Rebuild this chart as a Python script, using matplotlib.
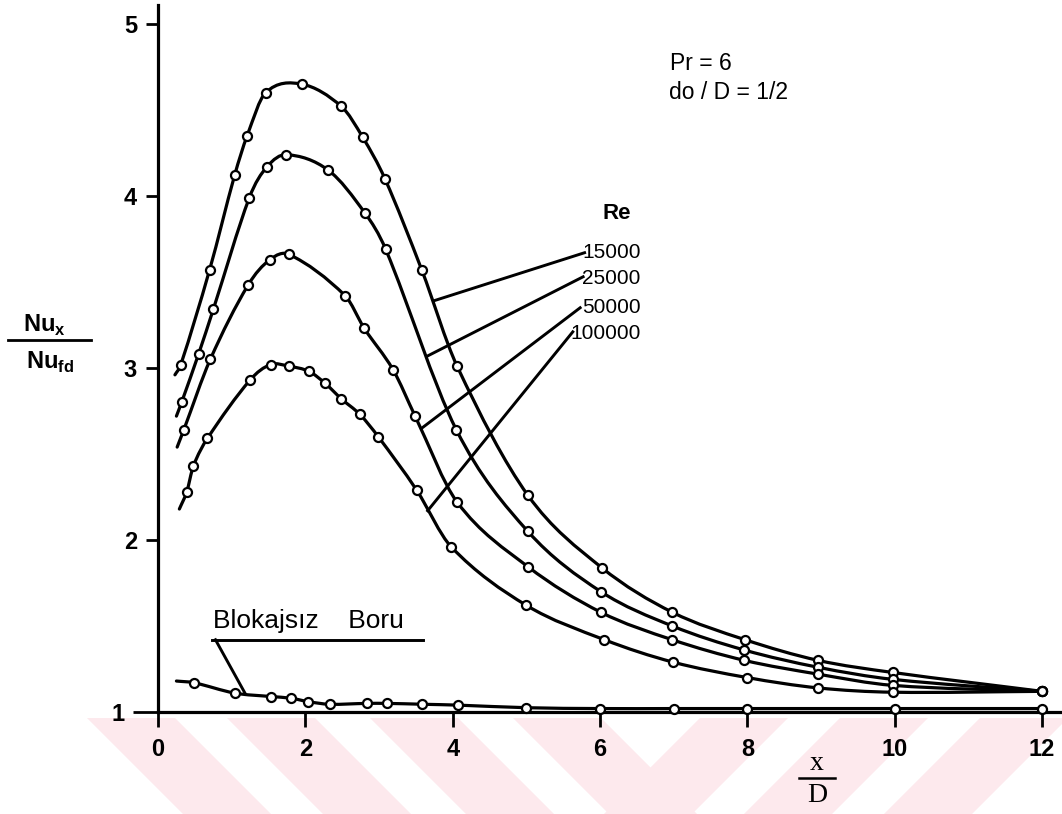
import numpy as np
import matplotlib
matplotlib.use("Agg")
import matplotlib.pyplot as plt
from matplotlib.path import Path
from matplotlib.patches import PathPatch, Polygon
from matplotlib.lines import Line2D
from matplotlib import font_manager

_installed = {f.name for f in font_manager.fontManager.ttflist}
SANS = next((n for n in ["Liberation Sans Narrow", "Liberation Sans", "DejaVu Sans"] if n in _installed),
            "DejaVu Sans")
SERIF = "Liberation Serif" if "Liberation Serif" in _installed else "DejaVu Serif"

# ---- data: x/D and Nu_x/Nu_fd (first entry of each curve is where the drawn line begins) ----
x_re15000 = [0.23, 0.31, 0.70, 1.04, 1.21, 1.46, 1.95, 2.49, 2.78, 3.08, 3.58, 4.06, 5.02, 6.02, 6.98, 7.97, 8.96, 9.97, 12.0]
nu_re15000 = [2.96, 3.02, 3.57, 4.12, 4.35, 4.60, 4.65, 4.52, 4.34, 4.10, 3.57, 3.01, 2.26, 1.84, 1.58, 1.42, 1.30, 1.23, 1.12]

x_re25000 = [0.25, 0.32, 0.55, 0.75, 1.24, 1.48, 1.74, 2.31, 2.81, 3.09, 4.05, 5.02, 6.01, 6.98, 7.96, 8.96, 9.97, 12.0]
nu_re25000 = [2.72, 2.80, 3.08, 3.34, 3.99, 4.17, 4.24, 4.15, 3.90, 3.69, 2.64, 2.05, 1.70, 1.50, 1.36, 1.26, 1.19, 1.12]

x_re50000 = [0.26, 0.35, 0.71, 1.22, 1.52, 1.78, 2.54, 2.80, 3.19, 3.49, 4.06, 5.02, 6.01, 6.98, 7.96, 8.96, 9.97, 12.0]
nu_re50000 = [2.54, 2.64, 3.05, 3.48, 3.63, 3.66, 3.42, 3.23, 2.99, 2.72, 2.22, 1.845, 1.58, 1.42, 1.30, 1.22, 1.155, 1.12]

x_re100000 = [0.29, 0.39, 0.48, 0.67, 1.25, 1.53, 1.78, 2.05, 2.27, 2.49, 2.74, 2.99, 3.51, 3.98, 5.0, 6.06, 6.99, 8.0, 8.96, 9.97, 12.0]
nu_re100000 = [2.18, 2.28, 2.43, 2.59, 2.93, 3.02, 3.01, 2.98, 2.91, 2.82, 2.73, 2.60, 2.29, 1.96, 1.62, 1.42, 1.29, 1.20, 1.14, 1.115, 1.12]

x_plain = [0.25, 0.49, 1.04, 1.53, 1.81, 2.04, 2.33, 2.83, 3.11, 3.59, 4.07, 5.0, 6.0, 7.0, 8.0, 10.0, 12.0]
nu_plain = [1.18, 1.17, 1.11, 1.09, 1.08, 1.06, 1.045, 1.05, 1.05, 1.045, 1.04, 1.025, 1.02, 1.02, 1.02, 1.02, 1.02]

re_labels = ["15000", "25000", "50000", "100000"]
x_ticks = [0, 2, 4, 6, 8, 10, 12]
y_ticks = [1, 2, 3, 4, 5]

curves = [(x_re15000, nu_re15000), (x_re25000, nu_re25000),
          (x_re50000, nu_re50000), (x_re100000, nu_re100000)]

# leader lines from each Re label to its curve: (label end, curve end)
leaders = [((5.79, 3.67), (3.74, 3.39)),
           ((5.77, 3.53), (3.66, 3.07)),
           ((5.73, 3.35), (3.58, 2.65)),
           ((5.63, 3.21), (3.66, 2.17))]
label_y = [3.67, 3.52, 3.35, 3.20]


def smooth_path(x, y):
    """Cubic Bezier path (Catmull-Rom style tangents) passing through every point."""
    x = np.asarray(x, float)
    y = np.asarray(y, float)
    h = np.diff(x)
    m = np.empty_like(x)
    m[0] = (y[1] - y[0]) / (x[1] - x[0])
    m[-1] = (y[-1] - y[-2]) / (x[-1] - x[-2])
    m[1:-1] = (y[2:] - y[:-2]) / (x[2:] - x[:-2])
    verts = [(x[0], y[0])]
    codes = [Path.MOVETO]
    for i in range(len(h)):
        verts += [(x[i] + h[i] / 3, y[i] + m[i] * h[i] / 3),
                  (x[i + 1] - h[i] / 3, y[i + 1] - m[i + 1] * h[i] / 3),
                  (x[i + 1], y[i + 1])]
        codes += [Path.CURVE4] * 3
    return Path(verts, codes)


W, H = 1062, 814
fig = plt.figure(figsize=(W / 100, H / 100), dpi=100)
fig.patch.set_facecolor("white")

# pale chevron watermark along the bottom edge
pink = "#fde9ed"
top_y, bot_y = 718, 814
drop = bot_y - top_y
for a in [87, 227, 370, 513]:
    pts = [(a, top_y), (a + 88, top_y), (a + 88 + drop, bot_y), (a + drop, bot_y)]
    fig.add_artist(Polygon([(px / W, 1 - py / H) for px, py in pts], closed=True,
                           facecolor=pink, edgecolor="none", zorder=0))
for a in [700, 840, 980]:
    pts = [(a, top_y), (a + 88, top_y), (a + 88 - drop, bot_y), (a - drop, bot_y)]
    fig.add_artist(Polygon([(px / W, 1 - py / H) for px, py in pts], closed=True,
                           facecolor=pink, edgecolor="none", zorder=0))

ax = fig.add_axes([158 / W, (H - 712) / H, (W - 158) / W, 707 / H])
ax.set_facecolor("none")
ax.set_xlim(0, 12.27)
ax.set_ylim(1, 5.11)

for s in ["top", "right"]:
    ax.spines[s].set_visible(False)
for s in ["left", "bottom"]:
    ax.spines[s].set_linewidth(2.3)

ax.set_xticks(x_ticks)
ax.set_yticks(y_ticks)
ax.tick_params(axis="x", direction="out", length=11, width=2, pad=8)
ax.tick_params(axis="y", direction="out", length=9, width=2, pad=6)
for lab in ax.get_xticklabels() + ax.get_yticklabels():
    lab.set_fontfamily(SANS)
    lab.set_fontsize(17)
    lab.set_fontweight("bold")
# the y = 1 tick runs on as a stub of the x axis
ax.yaxis.get_major_ticks()[0]._apply_params(size=18, pad=6)

for xs, ys in curves + [(x_plain, nu_plain)]:
    ax.add_patch(PathPatch(smooth_path(xs, ys), fill=False, lw=2.3, edgecolor="black",
                           capstyle="round", zorder=2))
    ax.plot(xs[1:], ys[1:], "o", mfc="white", mec="black", ms=6.5, mew=1.6, zorder=3,
            clip_on=False)

for (p0, p1) in leaders:
    ax.plot([p0[0], p1[0]], [p0[1], p1[1]], color="black", lw=2.1, zorder=2)

for lab, yv in zip(re_labels, label_y):
    ax.text(6.55, yv, lab, ha="right", va="center", fontsize=15, family=SANS)
ax.text(6.23, 3.90, "Re", ha="center", va="center", fontsize=16, family=SANS, fontweight="bold")

ax.text(6.95, 4.77, "Pr = 6", ha="left", va="center", fontsize=16.5, family=SANS)
ax.text(6.93, 4.60, "do / D = 1/2", ha="left", va="center", fontsize=16.5, family=SANS)

# label and leader for the plain pipe curve
ax.text(0.74, 1.53, "Blokajsız    Boru", ha="left", va="center", fontsize=19, family=SANS)
ax.plot([0.73, 3.6], [1.42, 1.42], color="black", lw=2.1)
ax.plot([0.78, 1.18], [1.42, 1.11], color="black", lw=2.1)

# y-axis label as a stacked fraction
fig.text(44 / W, 1 - 325 / H, r"Nu$_{\mathregular{x}}$", ha="center", va="center",
         fontsize=17, family=SANS, fontweight="bold")
fig.text(50 / W, 1 - 362 / H, r"Nu$_{\mathregular{fd}}$", ha="center", va="center",
         fontsize=17, family=SANS, fontweight="bold")
fig.add_artist(Line2D([8 / W, 91 / W], [1 - 340 / H, 1 - 340 / H], color="black", lw=2.0))

# x-axis label as a stacked fraction
fig.text(817 / W, 1 - 764 / H, "x", ha="center", va="center", fontsize=20, family=SERIF)
fig.text(817 / W, 1 - 796 / H, "D", ha="center", va="center", fontsize=20, family=SERIF)
fig.add_artist(Line2D([799 / W, 835 / W], [1 - 778 / H, 1 - 778 / H], color="black", lw=1.8))

fig.savefig("out.png", dpi=100, facecolor="white")
